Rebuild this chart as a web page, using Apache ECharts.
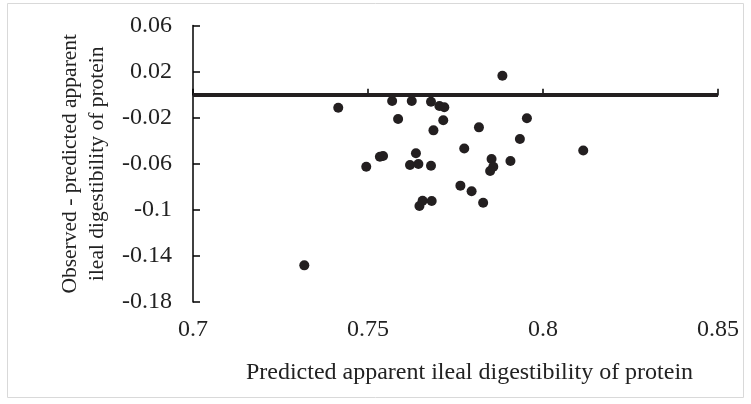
<!DOCTYPE html>
<html>
<head>
<meta charset="utf-8">
<script src="https://cdn.jsdelivr.net/npm/echarts@6/dist/echarts.min.js"></script>
<style>
  html, body { margin: 0; padding: 0; background: #fff; }
  #chart { width: 751px; height: 404px; }
</style>
</head>
<body>
<div id="chart"></div>
<script>
// predicted apparent ileal digestibility (x) vs residual (y)
const predicted = [
  0.7415, 0.7569, 0.7625, 0.7680, 0.7704, 0.7718, 0.7586, 0.7715, 0.7687, 0.7775,
  0.7534, 0.7543, 0.7637, 0.7884, 0.7954, 0.7817, 0.7934, 0.8115, 0.7853, 0.7907,
  0.7858, 0.7849, 0.7495, 0.7620, 0.7644, 0.7680, 0.7764, 0.7796, 0.7829, 0.7647,
  0.7656, 0.7682, 0.7318
]
const residual = [
  -0.0114, -0.0056, -0.0056, -0.0062, -0.0099, -0.0110, -0.0212, -0.0223, -0.0310, -0.0468,
  -0.0539, -0.0533, -0.0509, 0.0164, -0.0205, -0.0284, -0.0385, -0.0485, -0.0559, -0.0576,
  -0.0626, -0.0663, -0.0626, -0.0611, -0.0602, -0.0617, -0.0790, -0.0838, -0.0938, -0.0967,
  -0.0921, -0.0924, -0.1482
]
const referenceY = 0

const xTitle = 'Predicted apparent ileal digestibility of protein'
const yTitle = 'Observed - predicted apparent\nileal digestibility of protein'

const font = 'Liberation Serif'
const ink = '#231f20'

const fmt = v => String(Math.round(v * 100) / 100)

const chart = echarts.init(document.getElementById('chart'))
chart.setOption({
  animation: false,
  graphic: [{
    type: 'rect',
    shape: { x: 7.5, y: 3.5, width: 736, height: 394 },
    style: { fill: 'none', stroke: '#d9d9d9', lineWidth: 1 },
    silent: true
  }],
  grid: { left: 193, right: 33, top: 25.5, bottom: 102 },
  xAxis: {
    type: 'value',
    min: 0.7,
    max: 0.85,
    interval: 0.05,
    name: xTitle,
    nameLocation: 'middle',
    nameGap: 59,
    nameTextStyle: { fontFamily: font, fontSize: 24, color: '#222', padding: [0, 0, 0, 28] },
    axisLine: { lineStyle: { color: '#000', width: 1.5 } },
    axisTick: { inside: true, length: 6, lineStyle: { color: '#000', width: 1.5 } },
    axisLabel: { formatter: fmt, fontFamily: font, fontSize: 24, color: '#222', margin: 16 },
    splitLine: { show: false }
  },
  yAxis: {
    type: 'value',
    min: -0.18,
    max: 0.06,
    interval: 0.04,
    name: yTitle,
    nameLocation: 'middle',
    nameRotate: 90,
    nameGap: 76,
    nameTextStyle: { fontFamily: font, fontSize: 21.5, color: '#222', lineHeight: 27 },
    axisLine: { show: true, lineStyle: { color: '#000', width: 1.5 } },
    axisTick: { show: true, inside: true, length: 7, lineStyle: { color: '#000', width: 1.5 } },
    axisLabel: { formatter: fmt, fontFamily: font, fontSize: 24, color: '#222', margin: 21 },
    splitLine: { show: false }
  },
  series: [{
    type: 'scatter',
    symbolSize: 10,
    itemStyle: { color: ink, opacity: 1 },
    data: predicted.map((x, i) => [x, residual[i]]),
    markLine: {
      silent: true,
      symbol: 'none',
      label: { show: false },
      lineStyle: { color: ink, width: 4, type: 'solid' },
      data: [{ yAxis: referenceY }]
    }
  }]
})
</script>
</body>
</html>
